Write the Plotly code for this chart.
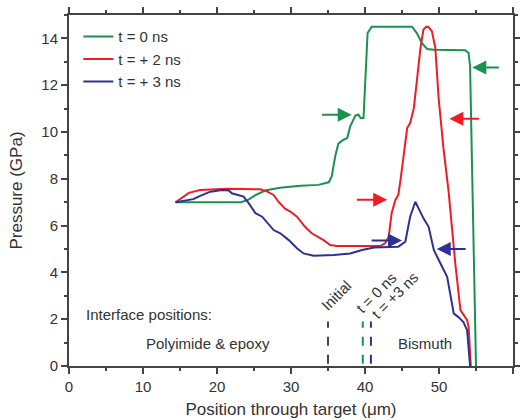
import plotly.graph_objects as go

# ---- data ----
x_t0 = [14.4, 23.2, 24.2, 25.2, 26.5, 28.5, 31.3, 33.7, 35.1, 35.5, 36.0, 36.4, 37.1, 37.6, 38.0, 38.7, 39.1, 39.4, 39.8, 40.1, 40.35, 40.9,
        46.35, 47.0, 47.7, 48.4, 49.3, 53.55, 54.0, 54.2, 54.6, 55.0]
y_t0 = [7.0, 7.0, 7.1, 7.3, 7.5, 7.62, 7.7, 7.74, 7.85, 8.1, 9.0, 9.5, 9.67, 9.74, 10.24, 10.7, 10.75, 10.6, 10.6, 12.5, 14.23, 14.5,
        14.5, 14.23, 13.8, 13.55, 13.52, 13.49, 13.38, 12.8, 6.67, 0.0]

x_t2 = [14.4, 16.2, 17.7, 21.35, 25.85, 26.8, 27.65, 28.3, 29.2, 29.9, 30.8, 31.9, 32.8, 33.7, 34.4, 35.3, 36.2, 42.1, 42.7, 43.2,
        43.6, 44.1, 44.5, 44.8, 45.7, 46.1, 46.6, 47.0, 47.5, 47.9, 48.3, 48.6, 49.05, 49.5, 49.95, 50.6, 51.3, 52.2, 52.9, 53.8, 54.0, 54.3]
y_t2 = [7.0, 7.4, 7.52, 7.57, 7.55, 7.45, 7.31, 7.02, 6.72, 6.6, 6.38, 5.95, 5.67, 5.52, 5.38, 5.17, 5.13, 5.13, 5.24, 5.52,
        6.53, 7.1, 7.31, 7.95, 10.17, 10.38, 11.02, 12.16, 13.6, 14.38, 14.5, 14.48, 14.3, 13.6, 11.45, 9.31, 7.45, 4.38, 2.39, 1.96, 1.67, 0.0]

x_t3 = [14.4, 16.8, 17.5, 19.1, 20.7, 21.6, 22.0, 22.9, 23.6, 24.3, 25.2, 26.1, 26.8, 27.65, 28.55, 29.7, 30.8, 31.7, 33.05, 35.8,
        38.0, 39.6, 41.2, 44.5, 45.45, 46.1, 46.8, 47.5, 47.9, 48.6, 49.3, 50.2, 51.1, 52.0, 52.6, 53.3, 53.8, 54.2]
y_t3 = [7.0, 7.13, 7.24, 7.45, 7.52, 7.5, 7.38, 7.31, 7.24, 6.95, 6.53, 6.38, 6.1, 5.81, 5.67, 5.38, 5.03, 4.81, 4.71, 4.74,
        4.81, 4.96, 5.06, 5.1, 5.31, 6.38, 7.02, 6.53, 6.31, 5.95, 4.96, 4.38, 3.81, 2.24, 2.1, 1.88, 1.53, 0.0]

series_names = ["t = 0 ns", "t = + 2 ns", "t = + 3 ns"]
colors = ["#1b9150", "#ee1c25", "#2e3192"]

# arrows: (tail_x, tail_y, tip_x, tip_y, color index)
arrows = [(34.0, 10.74, 38.2, 10.74, 0), (58.3, 12.76, 54.5, 12.76, 0),
          (38.7, 7.1, 43.0, 7.1, 1), (55.6, 10.57, 51.4, 10.57, 1),
          (40.7, 5.36, 45.0, 5.36, 2), (53.8, 5.0, 49.7, 5.0, 2)]

# interface positions
iface_x = [35.0, 39.7, 40.8]
iface_colors = ["#444444", "#1b9150", "#2e3192"]
iface_labels = ["Initial", "t = 0 ns", "t = +3 ns"]
iface_label_pos = [(36.1, 3.0), (41.5, 3.15), (44.0, 3.0)]

TXT = "#333333"
AX = "#444444"
FONT = "Liberation Sans, Arial, sans-serif"

fig = go.Figure()
for xs, ys, name, c in zip([x_t0, x_t2, x_t3], [y_t0, y_t2, y_t3], series_names, colors):
    fig.add_trace(go.Scatter(x=xs, y=ys, mode="lines", name=name,
                             line=dict(color=c, width=2)))

annotations = []
for tx, ty, hx, hy, ci in arrows:
    annotations.append(dict(x=hx, y=hy, ax=tx, ay=ty, xref="x", yref="y", axref="x", ayref="y",
                            text="", showarrow=True, arrowhead=2, arrowsize=1.4, arrowwidth=2,
                            arrowcolor=colors[ci]))

for xv, c in zip(iface_x, iface_colors):
    fig.add_shape(type="line", x0=xv, x1=xv, y0=0.1, y1=1.9, xref="x", yref="y",
                  line=dict(color=c, width=2, dash="dash"))

for lab, (lx, ly) in zip(iface_labels, iface_label_pos):
    annotations.append(dict(x=lx, y=ly, xref="x", yref="y", text=lab, showarrow=False,
                            textangle=-45, font=dict(size=15, color=TXT, family=FONT)))

annotations.append(dict(x=2.0, y=2.2, xref="x", yref="y", text="Interface positions:", showarrow=False,
                        xanchor="left", font=dict(size=15, color=TXT, family=FONT)))
annotations.append(dict(x=18.8, y=0.97, xref="x", yref="y", text="Polyimide & epoxy", showarrow=False,
                        font=dict(size=15, color=TXT, family=FONT)))
annotations.append(dict(x=48.1, y=0.97, xref="x", yref="y", text="Bismuth", showarrow=False,
                        font=dict(size=15, color=TXT, family=FONT)))

axis_common = dict(showline=True, linecolor=AX, linewidth=2, mirror="allticks",
                   ticks="outside", ticklen=6, tickwidth=2, tickcolor=AX,
                   showgrid=False, zeroline=False, automargin=False,
                   tickfont=dict(size=15, color=TXT, family=FONT))

fig.update_layout(
    width=520, height=420,
    margin=dict(l=69, r=7, t=15, b=54),
    paper_bgcolor="white", plot_bgcolor="white",
    font=dict(family=FONT, color=TXT),
    xaxis=dict(range=[0, 60], tickvals=[0, 10, 20, 30, 40, 50, 60],
               minor=dict(dtick=5, ticks="outside", ticklen=3, tickwidth=1.5, tickcolor=AX),
               title=dict(text="Position through target (μm)", font=dict(size=17, color=TXT, family=FONT), standoff=9),
               **axis_common),
    yaxis=dict(range=[0, 15], tickvals=[0, 2, 4, 6, 8, 10, 12, 14],
               minor=dict(dtick=1, ticks="outside", ticklen=3, tickwidth=1.5, tickcolor=AX),
               title=dict(text="Pressure (GPa)", font=dict(size=17, color=TXT, family=FONT), standoff=14),
               **axis_common),
    legend=dict(x=0.021, y=0.985, xanchor="left", yanchor="top", bgcolor="rgba(0,0,0,0)",
                font=dict(size=15, color=TXT, family=FONT), tracegroupgap=0),
    annotations=annotations,
    showlegend=True,
)

# remove the default 8px page margin so the 520x420 figure fills the window
fig.write_html("out.html", config={"displayModeBar": False},
               post_script="document.body.style.margin='0';document.body.style.overflow='hidden';")
